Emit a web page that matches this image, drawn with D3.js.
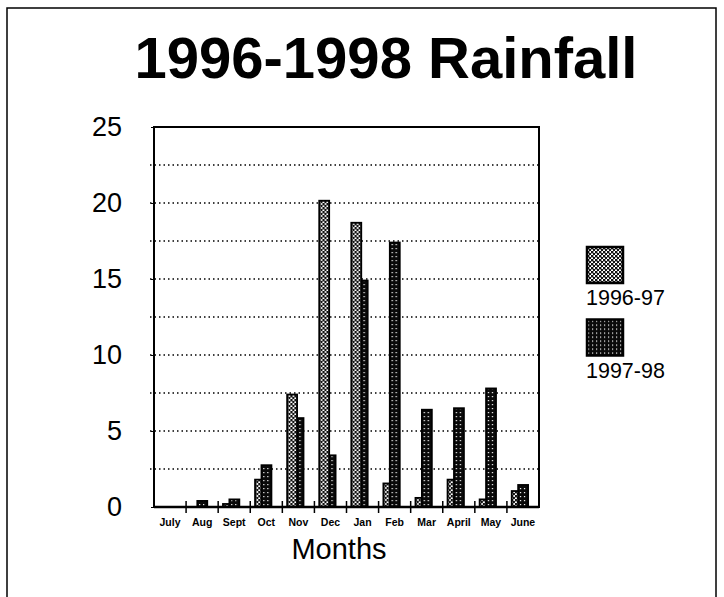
<!DOCTYPE html>
<html>
<head>
<meta charset="utf-8">
<script src="https://cdn.jsdelivr.net/npm/d3@7"></script>
<style>
  body { margin: 0; background: #fff; }
  text { font-family: "Liberation Sans", Arial, sans-serif; fill: #000; }
</style>
</head>
<body>
<div id="chart"></div>
<script>
var svgWidth = 724;
var svgHeight = 597;

// data
var months = ["July", "Aug", "Sept", "Oct", "Nov", "Dec", "Jan", "Feb", "Mar", "April", "May", "June"];
var series = ["1996-97", "1997-98"];
var rain9697 = [0, 0, 0.2, 1.8, 7.4, 20.15, 18.7, 1.55, 0.6, 1.8, 0.5, 1.05];
var rain9798 = [0.05, 0.4, 0.5, 2.75, 5.85, 3.4, 14.9, 17.4, 6.4, 6.5, 7.8, 1.45];
var yTicks = [0, 5, 10, 15, 20, 25];
var yGrid = [2.5, 5, 7.5, 10, 12.5, 15, 17.5, 20, 22.5];

var margin = { top: 127, right: 185, bottom: 90, left: 154 };
var width = svgWidth - margin.left - margin.right;
var height = svgHeight - margin.top - margin.bottom;

var svg = d3.select("#chart")
    .append("svg")
    .attr("width", svgWidth)
    .attr("height", svgHeight);

// fill patterns for the two seasons
var defs = svg.append("defs");
var p1 = defs.append("pattern")
    .attr("id", "pat1")
    .attr("width", 4).attr("height", 4)
    .attr("patternUnits", "userSpaceOnUse");
p1.append("rect").attr("width", 4).attr("height", 4).attr("fill", "#fff");
p1.append("rect").attr("x", 0).attr("y", 0).attr("width", 2.4).attr("height", 2.4).attr("fill", "#111");
p1.append("rect").attr("x", 2).attr("y", 2).attr("width", 2.4).attr("height", 2.4).attr("fill", "#111");

var p2 = defs.append("pattern")
    .attr("id", "pat2")
    .attr("width", 4).attr("height", 4)
    .attr("patternUnits", "userSpaceOnUse");
p2.append("rect").attr("width", 4).attr("height", 4).attr("fill", "#0a0a0a");
p2.append("rect").attr("x", 1).attr("y", 1).attr("width", 1.2).attr("height", 1.2).attr("fill", "#fff");

var fills = ["url(#pat1)", "url(#pat2)"];

// outer frame
svg.append("rect")
    .attr("x", 7).attr("y", 8)
    .attr("width", 709).attr("height", 600)
    .attr("fill", "none")
    .attr("stroke", "#000")
    .attr("stroke-width", 1.5);

// title
svg.append("text")
    .attr("x", 386)
    .attr("y", 78)
    .attr("text-anchor", "middle")
    .attr("font-size", 58)
    .attr("font-weight", "bold")
    .text("1996-1998 Rainfall");

var chartGroup = svg.append("g")
    .attr("transform", `translate(${margin.left}, ${margin.top})`);

var xScale = d3.scaleBand()
    .domain(months)
    .range([0, width]);

var yScale = d3.scaleLinear()
    .domain([0, 25])
    .range([height, 0]);

// dotted gridlines
chartGroup.append("g")
    .selectAll("line")
    .data(yGrid)
    .enter()
    .append("line")
    .attr("x1", -4)
    .attr("x2", width)
    .attr("y1", d => yScale(d))
    .attr("y2", d => yScale(d))
    .attr("stroke", "#000")
    .attr("stroke-width", 1.3)
    .attr("stroke-dasharray", "1.5,3");

// y axis labels
var leftAxis = d3.axisLeft(yScale).tickValues(yTicks).tickSize(3).tickPadding(29);
var yAxisG = chartGroup.append("g").call(leftAxis);
yAxisG.select(".domain").remove();
yAxisG.selectAll("text")
    .attr("font-size", 27)
    .attr("font-family", "Liberation Sans, Arial, sans-serif")
    .attr("fill", "#000");

// bars
var rows = months.map(function(m, i) {
    return { month: m, vals: [rain9697[i], rain9798[i]] };
});
var bw = xScale.bandwidth();
var offsets = [0.15, 0.35];

var monthGroups = chartGroup.append("g")
    .selectAll("g")
    .data(rows)
    .enter()
    .append("g")
    .attr("transform", d => `translate(${xScale(d.month)}, 0)`);

monthGroups.each(function(d) {
    var bars = d.vals.map(function(v, k) { return { v: v, k: k }; })
        .sort(function(a, b) { return a.v - b.v; });
    d3.select(this).selectAll("rect")
        .data(bars)
        .enter()
        .append("rect")
        .attr("x", b => bw * offsets[b.k])
        .attr("y", b => yScale(b.v))
        .attr("width", bw * 0.31)
        .attr("height", b => height - yScale(b.v))
        .attr("fill", b => fills[b.k])
        .attr("stroke", "#000")
        .attr("stroke-width", b => b.v > 0.1 ? 1.8 : 0);
});

// plot frame
chartGroup.append("rect")
    .attr("x", 0).attr("y", 0)
    .attr("width", width).attr("height", height)
    .attr("fill", "none")
    .attr("stroke", "#000")
    .attr("stroke-width", 2);

// x axis: crossing ticks at category edges
var edges = months.slice(1).map(m => xScale(m));
chartGroup.append("g")
    .selectAll("line")
    .data(edges)
    .enter()
    .append("line")
    .attr("x1", d => d).attr("x2", d => d)
    .attr("y1", height - 6).attr("y2", height + 6)
    .attr("stroke", "#000")
    .attr("stroke-width", 1.5);

chartGroup.append("line")
    .attr("x1", 0).attr("x2", width)
    .attr("y1", height).attr("y2", height)
    .attr("stroke", "#000")
    .attr("stroke-width", 2.5);

chartGroup.append("g")
    .selectAll("text")
    .data(months)
    .enter()
    .append("text")
    .attr("x", d => xScale(d) + bw / 2)
    .attr("y", height + 19)
    .attr("text-anchor", "middle")
    .attr("font-size", 10.5)
    .attr("font-weight", "bold")
    .attr("font-family", "Liberation Sans Narrow, Arial Narrow, Liberation Sans, sans-serif")
    .text(d => d);

// x axis title
chartGroup.append("text")
    .attr("x", 185)
    .attr("y", height + 52)
    .attr("text-anchor", "middle")
    .attr("font-size", 29)
    .text("Months");

// legend
var legend = svg.append("g")
    .selectAll("g")
    .data(series)
    .enter()
    .append("g")
    .attr("transform", (d, i) => `translate(587, ${247 + i * 72.5})`);

legend.append("rect")
    .attr("width", 36)
    .attr("height", 36)
    .attr("fill", (d, i) => fills[i])
    .attr("stroke", "#000")
    .attr("stroke-width", 2.5);

legend.append("text")
    .attr("x", -1)
    .attr("y", 58)
    .attr("font-size", 21.5)
    .text(d => d);
</script>
</body>
</html>
